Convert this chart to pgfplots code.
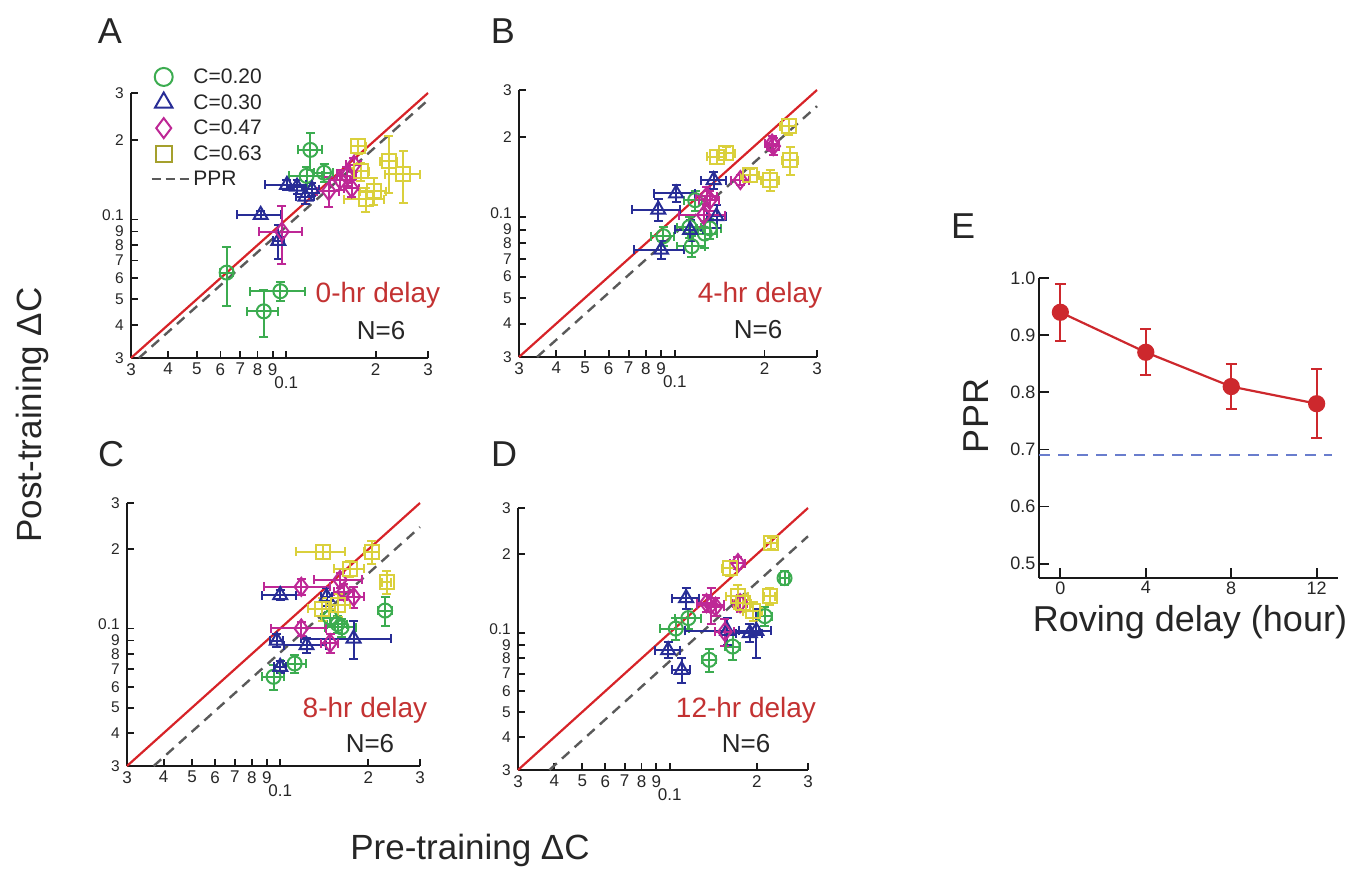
\documentclass[border=0pt]{standalone}
\usepackage{pgfplots}
\pgfplotsset{compat=1.18}
\usepackage{pgfplotstable}
\usepackage{fontspec}
\setmainfont{Liberation Sans}
\definecolor{cg}{RGB}{60,172,80}
\definecolor{cb}{RGB}{40,45,150}
\definecolor{cm}{RGB}{190,40,150}
\definecolor{cy}{RGB}{218,208,60}
\definecolor{cyl}{RGB}{165,160,45}
\definecolor{cr}{RGB}{215,35,40}
\definecolor{ctxt}{RGB}{195,50,50}
\definecolor{cgray}{RGB}{90,90,90}
\definecolor{cEr}{RGB}{205,40,45}
\definecolor{cEb}{RGB}{105,125,205}

% ---------- data: x y ex ey ----------
\pgfplotstableread{
x y ex ey
0.1205 0.183 0.011 0.029
0.134 0.150 0.010 0.012
0.117 0.146 0.015 0.012
0.063 0.063 0.003 0.016
0.0955 0.0536 0.020 0.0045
0.084 0.045 0.010 0.009
}\Ag
\pgfplotstableread{
x y ex ey
0.082 0.104 0.014 0.004
0.094 0.083 0.004 0.012
0.1005 0.135 0.016 0.006
0.1087 0.133 0.008 0.008
0.116 0.122 0.008 0.008
0.122 0.130 0.007 0.007
}\Ab
\pgfplotstableread{
x y ex ey
0.0967 0.090 0.016 0.022
0.139 0.128 0.012 0.017
0.169 0.161 0.010 0.010
0.160 0.146 0.012 0.012
0.166 0.131 0.010 0.010
0.152 0.141 0.012 0.012
}\Am
\pgfplotstableread{
x y ex ey
0.175 0.189 0.010 0.012
0.221 0.166 0.015 0.040
0.248 0.148 0.033 0.033
0.197 0.128 0.020 0.015
0.185 0.119 0.028 0.012
0.178 0.152 0.012 0.012
}\Ay
\pgfplotstableread{
x y ex ey
0.0915 0.085 0.008 0.007
0.114 0.078 0.012 0.007
0.117 0.116 0.010 0.010
0.112 0.092 0.010 0.008
0.126 0.087 0.012 0.010
0.131 0.091 0.012 0.008
}\Bg
\pgfplotstableread{
x y ex ey
0.101 0.123 0.016 0.009
0.088 0.107 0.016 0.010
0.090 0.0757 0.017 0.006
0.1125 0.0898 0.012 0.008
0.135 0.138 0.013 0.010
0.138 0.101 0.010 0.010
}\Bb
\pgfplotstableread{
x y ex ey
0.212 0.189 0.012 0.012
0.214 0.185 0.010 0.014
0.166 0.138 0.012 0.006
0.128 0.120 0.010 0.010
0.131 0.116 0.010 0.010
0.125 0.102 0.022 0.010
}\Bm
\pgfplotstableread{
x y ex ey
0.241 0.219 0.015 0.015
0.244 0.164 0.015 0.020
0.209 0.138 0.015 0.012
0.179 0.144 0.012 0.008
0.138 0.169 0.010 0.010
0.149 0.174 0.010 0.010
}\By
\pgfplotstableread{
x y ex ey
0.228 0.117 0.012 0.015
0.162 0.101 0.020 0.008
0.157 0.104 0.012 0.008
0.112 0.0736 0.010 0.006
0.0949 0.0655 0.008 0.007
0.148 0.110 0.010 0.008
}\Cg
\pgfplotstableread{
x y ex ey
0.100 0.134 0.013 0.006
0.0974 0.090 0.005 0.005
0.123 0.0864 0.020 0.006
0.178 0.0916 0.060 0.015
0.100 0.0715 0.005 0.004
0.144 0.132 0.006 0.010
}\Cb
\pgfplotstableread{
x y ex ey
0.118 0.144 0.030 0.010
0.160 0.153 0.030 0.010
0.178 0.132 0.015 0.012
0.118 0.100 0.025 0.006
0.148 0.088 0.010 0.007
0.165 0.138 0.012 0.010
}\Cm
\pgfplotstableread{
x y ex ey
0.140 0.196 0.027 0.012
0.205 0.196 0.012 0.020
0.173 0.169 0.020 0.012
0.231 0.150 0.008 0.015
0.139 0.119 0.015 0.012
0.158 0.123 0.015 0.012
}\Cy
\pgfplotstableread{
x y ex ey
0.249 0.162 0.008 0.010
0.213 0.116 0.012 0.010
0.116 0.114 0.012 0.010
0.105 0.104 0.012 0.010
0.165 0.0888 0.010 0.010
0.137 0.079 0.008 0.008
}\Dg
\pgfplotstableread{
x y ex ey
0.114 0.136 0.012 0.012
0.0988 0.086 0.010 0.006
0.110 0.0723 0.008 0.008
0.189 0.100 0.020 0.008
0.199 0.102 0.025 0.022
0.158 0.102 0.045 0.012
}\Db
\pgfplotstableread{
x y ex ey
0.172 0.185 0.010 0.010
0.139 0.128 0.015 0.020
0.134 0.130 0.010 0.010
0.144 0.126 0.010 0.010
0.155 0.101 0.012 0.012
0.175 0.130 0.010 0.010
}\Dm
\pgfplotstableread{
x y ex ey
0.224 0.220 0.010 0.010
0.161 0.177 0.010 0.012
0.221 0.138 0.010 0.010
0.172 0.138 0.015 0.015
0.179 0.130 0.012 0.010
0.194 0.121 0.015 0.010
}\Dy

\pgfplotsset{
  every axis/.append style={/pgf/number format/assume math mode=true},
  logpanel/.style={xmin=0.03, xmax=0.3, ymin=0.03, ymax=0.3,
    scale only axis, anchor=south west, clip=false,
    axis lines=left, axis line style={-, line width=2.4pt, black!90},
    tick align=inside, major tick length=7pt,
    tick style={line width=1.8pt, black!90},
    xtick={0.03,0.04,0.05,0.06,0.07,0.08,0.09,0.2,0.3},
    xticklabels={3,4,5,6,7,8,9,2,3},
    ytick={0.03,0.04,0.05,0.06,0.07,0.08,0.09,0.2,0.3},
    yticklabels={3,4,5,6,7,8,9,2,3},
    extra x ticks={0.1}, extra x tick labels={0.1},
    extra x tick style={xticklabel style={yshift=-13pt}},
    extra y ticks={0.1}, extra y tick labels={0.1},
    extra y tick style={yticklabel style={yshift=4pt}},
    xticklabel style={font=\fontsize{17}{18}\selectfont, text=black!85, inner sep=2pt, yshift=-3pt},
    yticklabel style={font=\fontsize{15.5}{17}\selectfont, text=black!85, inner sep=1pt, xshift=-6pt},
  },
  errb/.style={only marks, forget plot,
    mark options={solid, line width=2pt, fill=none},
    error bars/x dir=both, error bars/x explicit,
    error bars/y dir=both, error bars/y explicit,
    error bars/error mark=-,
    error bars/error bar style={line width=2pt, solid},
    error bars/error mark options={rotate=90, line width=2pt, mark size=4.5pt, solid}},
  sg/.style={errb, color=cg, mark=o, mark size=7pt},
  sb/.style={errb, color=cb, mark=triangle, mark size=8pt},
  sm/.style={errb, color=cm, mark=diamond, mark size=9pt},
  sy/.style={errb, color=cy, mark=square, mark size=7pt},
  redl/.style={color=cr, line width=2.2pt, forget plot},
  gdash/.style={color=cgray, line width=2.4pt, dash pattern=on 10pt off 7pt, forget plot},
  legmark/.style={legend image code/.code={\draw[mark repeat=2,mark phase=2,##1] plot coordinates {(0pt,0pt) (13pt,0pt) (40pt,0pt)};}},
  legline/.style={legend image code/.code={\draw[##1] (1pt,0pt) -- (40pt,0pt);}},
}

\begin{document}
\begin{tikzpicture}

% ---------------- Panel A ----------------
\begin{axis}[xmode=log, ymode=log, logpanel, at={(131pt,513pt)}, width=297pt, height=265pt,
  legend style={at={(axis description cs:0.055,1.105)}, anchor=north west,
    draw=none, fill=none, font=\fontsize{21}{24}\selectfont, text=black!85,
    row sep=6pt, legend cell align=left,
    nodes={inner sep=1.5pt}}]
\addlegendimage{legmark, only marks, mark=o, color=cg, mark size=9pt, mark options={line width=2pt}}
\addlegendentry{C=0.20}
\addlegendimage{legmark, only marks, mark=triangle, color=cb, mark size=10pt, mark options={line width=2pt}}
\addlegendentry{C=0.30}
\addlegendimage{legmark, only marks, mark=diamond, color=cm, mark size=10pt, mark options={line width=2pt}}
\addlegendentry{C=0.47}
\addlegendimage{legmark, only marks, mark=square, color=cyl, mark size=8pt, mark options={line width=2pt}}
\addlegendentry{C=0.63}
\addlegendimage{legline, color=cgray, line width=2.4pt, dash pattern=on 9pt off 5pt}
\addlegendentry{PPR}
\addplot[redl] coordinates {(0.03,0.03) (0.3,0.3)};
\addplot[gdash] coordinates {(0.0319,0.03) (0.3,0.282)};
\addplot[sg] table[x=x,y=y,x error=ex,y error=ey] {\Ag};
\addplot[sb] table[x=x,y=y,x error=ex,y error=ey] {\Ab};
\addplot[sm] table[x=x,y=y,x error=ex,y error=ey] {\Am};
\addplot[sy] table[x=x,y=y,x error=ex,y error=ey] {\Ay};
\end{axis}

% ---------------- Panel B ----------------
\begin{axis}[xmode=log, ymode=log, logpanel, at={(519pt,514pt)}, width=298pt, height=267pt]
\addplot[redl] coordinates {(0.03,0.03) (0.3,0.3)};
\addplot[gdash] coordinates {(0.0345,0.03) (0.3,0.261)};
\addplot[sg] table[x=x,y=y,x error=ex,y error=ey] {\Bg};
\addplot[sb] table[x=x,y=y,x error=ex,y error=ey] {\Bb};
\addplot[sm] table[x=x,y=y,x error=ex,y error=ey] {\Bm};
\addplot[sy] table[x=x,y=y,x error=ex,y error=ey] {\By};
\end{axis}

% ---------------- Panel C ----------------
\begin{axis}[xmode=log, ymode=log, logpanel, at={(127pt,105pt)}, width=293pt, height=263pt]
\addplot[redl] coordinates {(0.03,0.03) (0.3,0.3)};
\addplot[gdash] coordinates {(0.0370,0.03) (0.3,0.243)};
\addplot[sg] table[x=x,y=y,x error=ex,y error=ey] {\Cg};
\addplot[sb] table[x=x,y=y,x error=ex,y error=ey] {\Cb};
\addplot[sm] table[x=x,y=y,x error=ex,y error=ey] {\Cm};
\addplot[sy] table[x=x,y=y,x error=ex,y error=ey] {\Cy};
\end{axis}

% ---------------- Panel D ----------------
\begin{axis}[xmode=log, ymode=log, logpanel, at={(518pt,101pt)}, width=290pt, height=262pt]
\addplot[redl] coordinates {(0.03,0.03) (0.3,0.3)};
\addplot[gdash] coordinates {(0.0385,0.03) (0.3,0.234)};
\addplot[sg] table[x=x,y=y,x error=ex,y error=ey] {\Dg};
\addplot[sb] table[x=x,y=y,x error=ex,y error=ey] {\Db};
\addplot[sm] table[x=x,y=y,x error=ex,y error=ey] {\Dm};
\addplot[sy] table[x=x,y=y,x error=ex,y error=ey] {\Dy};
\end{axis}

% ---------------- Panel E ----------------
\begin{axis}[at={(1039pt,293pt)}, anchor=south west, scale only axis,
  width=299pt, height=300pt, xmin=-1, xmax=13, ymin=0.475, ymax=1.0,
  axis lines=left, axis line style={-, line width=2.4pt, black!90},
  tick align=inside, major tick length=10pt, tick style={line width=1.8pt, black!90},
  xtick={0,4,8,12}, ytick={0.5,0.6,0.7,0.8,0.9,1.0},
  yticklabel style={/pgf/number format/fixed, /pgf/number format/fixed zerofill, /pgf/number format/precision=1},
  ticklabel style={font=\fontsize{18}{20}\selectfont, text=black!85},
  clip=false]
\addplot[color=cEb, line width=2pt, dash pattern=on 11pt off 8pt, forget plot] coordinates {(-1,0.69) (12.7,0.69)};
\addplot[color=cEr, line width=2.2pt, mark=*, mark size=7.5pt, mark options={solid, fill=cEr},
  error bars/y dir=both, error bars/y explicit, error bars/error mark=-,
  error bars/error bar style={line width=2pt},
  error bars/error mark options={rotate=90, line width=2pt, mark size=5.5pt}]
  table[x=x, y=y, y error=e] {
x y e
0 0.94 0.05
4 0.87 0.04
8 0.81 0.04
12 0.78 0.06
};
\end{axis}

% ---------------- Texts ----------------
\begin{scope}[every node/.style={inner sep=0pt}]
\node[text=ctxt, font=\fontsize{28}{30}\selectfont] at (378pt,576pt) {0-hr delay};
\node[text=black!85, font=\fontsize{26}{28}\selectfont] at (381pt,540pt) {N=6};
\node[text=ctxt, font=\fontsize{28}{30}\selectfont] at (760pt,576pt) {4-hr delay};
\node[text=black!85, font=\fontsize{26}{28}\selectfont] at (758pt,541pt) {N=6};
\node[text=ctxt, font=\fontsize{28}{30}\selectfont] at (365pt,161pt) {8-hr delay};
\node[text=black!85, font=\fontsize{26}{28}\selectfont] at (370pt,127pt) {N=6};
\node[text=ctxt, font=\fontsize{28}{30}\selectfont] at (746pt,161pt) {12-hr delay};
\node[text=black!85, font=\fontsize{26}{28}\selectfont] at (746pt,127pt) {N=6};

\node[font=\fontsize{36}{38}\selectfont, text=black!85] at (110pt,840pt) {A};
\node[font=\fontsize{36}{38}\selectfont, text=black!85] at (503pt,840pt) {B};
\node[font=\fontsize{36}{38}\selectfont, text=black!85] at (111pt,417pt) {C};
\node[font=\fontsize{36}{38}\selectfont, text=black!85] at (504pt,417pt) {D};
\node[font=\fontsize{36}{38}\selectfont, text=black!85] at (963pt,645pt) {E};

\node[rotate=90, font=\fontsize{35}{37}\selectfont, text=black!85] at (32pt,456pt) {Post-training ΔC};
\node[font=\fontsize{35}{37}\selectfont, text=black!85] at (470pt,21pt) {Pre-training ΔC};
\node[rotate=90, font=\fontsize{36}{38}\selectfont, text=black!85] at (976pt,455pt) {PPR};
\node[font=\fontsize{36}{38}\selectfont, text=black!85] at (1190pt,249pt) {Roving delay (hour)};
\end{scope}

\pgfresetboundingbox
\path[use as bounding box] (0pt,0pt) rectangle (1366pt,871pt);
\end{tikzpicture}
\end{document}
